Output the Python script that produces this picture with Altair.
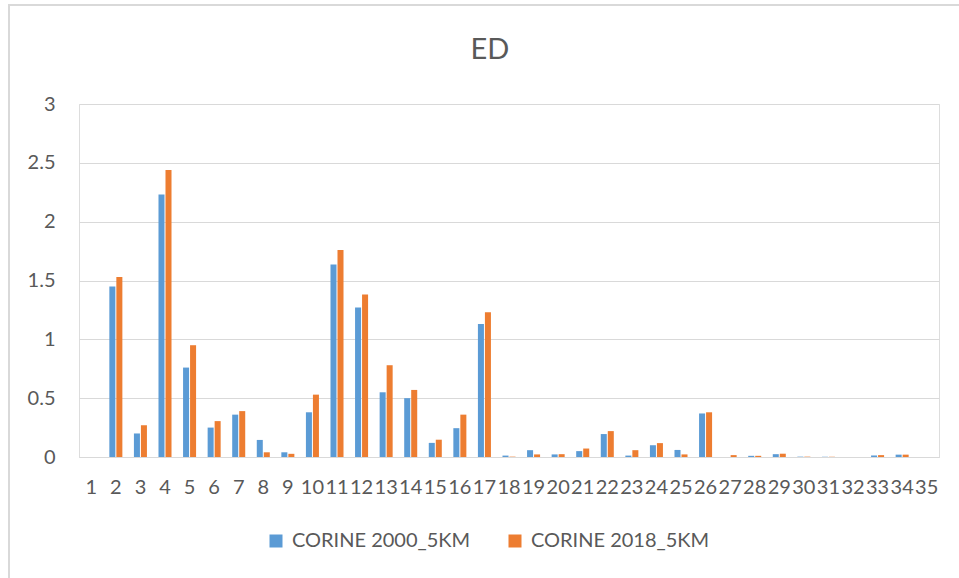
import altair as alt
import pandas as pd

# Category labels along the horizontal axis
categories = [str(i) for i in range(1, 36)]

# ED values per category for each land-cover snapshot
ed_2000 = [0.0, 1.45, 0.20, 2.23, 0.76, 0.25, 0.36, 0.145, 0.04, 0.38,
           1.635, 1.27, 0.55, 0.50, 0.12, 0.245, 1.13, 0.012, 0.058, 0.022,
           0.05, 0.195, 0.012, 0.10, 0.06, 0.37, 0.0, 0.01, 0.024, 0.003,
           0.002, 0.0, 0.013, 0.02, 0.0]
ed_2018 = [0.0, 1.53, 0.27, 2.44, 0.95, 0.305, 0.39, 0.04, 0.027, 0.53,
           1.76, 1.38, 0.78, 0.57, 0.147, 0.36, 1.23, 0.003, 0.022, 0.024,
           0.072, 0.22, 0.058, 0.118, 0.022, 0.38, 0.016, 0.01, 0.028, 0.003,
           0.002, 0.0, 0.016, 0.02, 0.0]

series_names = ["CORINE 2000_5KM", "CORINE 2018_5KM"]
series_colors = ["#5B9BD5", "#ED7D31"]
y_ticks = [0, 0.5, 1, 1.5, 2, 2.5, 3]
chart_title = "ED"

rows = []
for cat, a, b in zip(categories, ed_2000, ed_2018):
    rows.append({"cat": cat, "series": series_names[0], "value": a})
    rows.append({"cat": cat, "series": series_names[1], "value": b})
df = pd.DataFrame(rows)

FONT = "Lato"
TEXT = "#595959"
GRID = "#D9D9D9"

bars = alt.Chart(df).mark_bar().encode(
    x=alt.X("cat:N", sort=categories, title=None,
            scale=alt.Scale(paddingInner=0.47, paddingOuter=0.235),
            axis=alt.Axis(labelAngle=0, ticks=False, domain=True,
                          domainColor=GRID, domainWidth=1,
                          labelFont=FONT, labelFontSize=20,
                          labelColor=TEXT, labelPadding=20, grid=False)),
    xOffset=alt.XOffset("series:N", sort=series_names,
                        scale=alt.Scale(paddingInner=0.14)),
    y=alt.Y("value:Q", title=None,
            scale=alt.Scale(domain=[0, 3], nice=False),
            axis=alt.Axis(values=y_ticks, format="~g", ticks=False,
                          domain=False, gridColor=GRID, gridWidth=1,
                          labelFont=FONT, labelFontSize=20,
                          labelColor=TEXT, labelPadding=24)),
    color=alt.Color("series:N",
                    scale=alt.Scale(domain=series_names, range=series_colors),
                    legend=alt.Legend(title=None, orient="none",
                                      direction="horizontal",
                                      legendX=187, legendY=427,
                                      symbolType="square", symbolSize=169,
                                      symbolStrokeWidth=0,
                                      labelFont=FONT, labelFontSize=20,
                                      labelColor=TEXT, labelOffset=6,
                                      labelLimit=400,
                                      columnPadding=34)),
)

# Chart heading, centred over the chart area
heading = alt.Chart(pd.DataFrame({"k": [0]})).mark_text(
    font=FONT, fontSize=29, color=TEXT, align="center",
    baseline="alphabetic", clip=False
).encode(x=alt.value(411), y=alt.value(-45), text=alt.value(chart_title))

# Thin frame along the chart's left and top edges
frame_left = alt.Chart(pd.DataFrame({"k": [0]})).mark_rule(
    color=GRID, strokeWidth=2, clip=False
).encode(x=alt.value(-70), y=alt.value(-99), y2=alt.value(480))

frame_top = alt.Chart(pd.DataFrame({"k": [0]})).mark_rule(
    color=GRID, strokeWidth=2, clip=False
).encode(x=alt.value(-71), x2=alt.value(890), y=alt.value(-99))

chart = alt.layer(bars, heading, frame_left, frame_top).properties(
    width=860,
    height=353,
    padding={"left": 79, "top": 104, "right": 20, "bottom": 121},
    autosize=alt.AutoSizeParams(type="none"),
).configure_view(stroke=None).configure(background="white")

chart.save("out.html", embed_options={"renderer": "svg", "actions": False})
